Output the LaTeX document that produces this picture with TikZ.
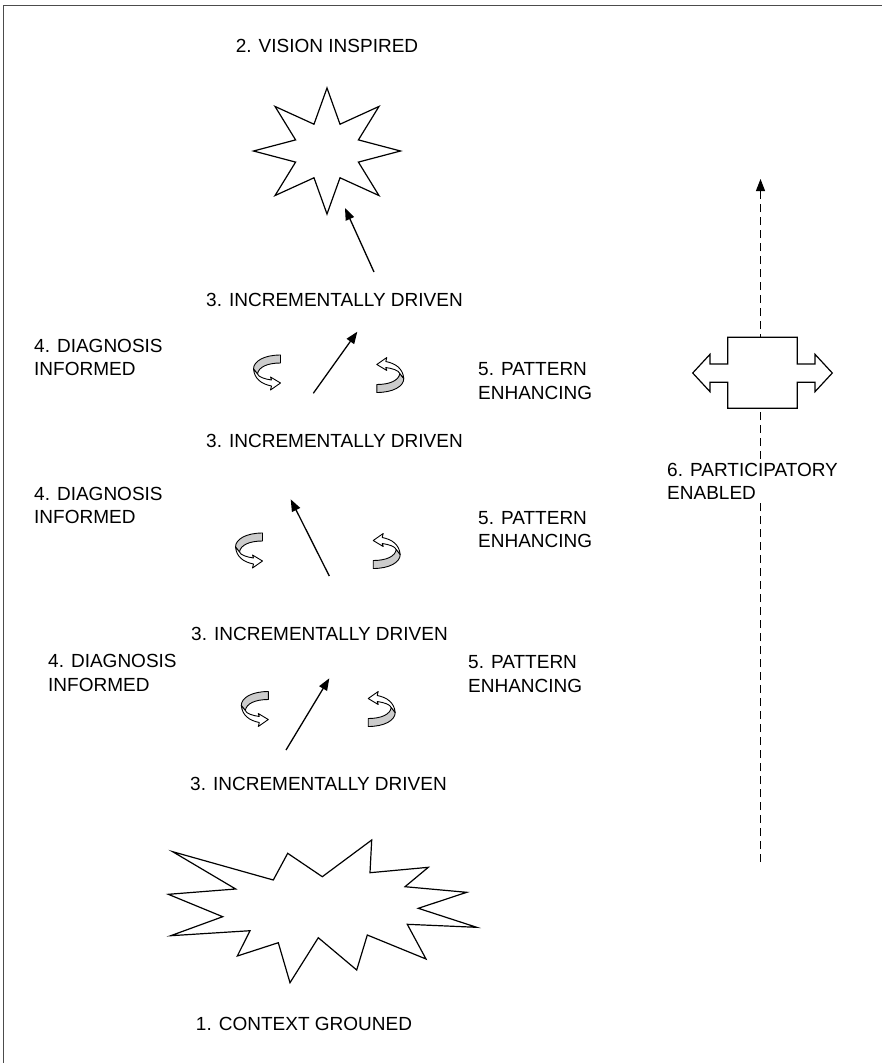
\documentclass[tikz,border=0pt]{standalone}
\usepackage{fontspec}
\setmainfont{Liberation Sans}
\usetikzlibrary{arrows.meta}
\begin{document}
\begin{tikzpicture}[x=1pt,y=-1pt,
  lbl/.style={font=\fontsize{19}{23.5}\selectfont, inner sep=0pt, align=left},
  shapeln/.style={line width=1.2pt, line join=miter, fill=white},
  ar/.style={line width=1.3pt, -{Triangle[length=12pt,width=9pt]}},
  curl/.pic={
    \begin{scope}[shift={(-13.5,-17.5)}, line width=0.9pt, line join=round]
      \draw[fill=gray!40] (27,0) .. controls (11,0) and (0,6) .. (0,14) -- (4,19) .. controls (5,12) and (14,8) .. (27,8) -- cycle;
      \draw[fill=white] (0,14) .. controls (1,24) and (8,29) .. (18,31) -- (17,35) -- (27,28) -- (17,22) -- (18,25) .. controls (11,24) and (5,22) .. (4,19) -- cycle;
    \end{scope}
  }]
\useasboundingbox (0,0) rectangle (881,1063);
\draw[line width=1pt, black!70] (3,1075) |- (895,5);

% vision star
\begin{scope}[shift={(327,151)}]
\draw[shapeln] (0:73.5 and 63) -- (22.5:34 and 29) -- (45:73.5 and 63) -- (67.5:34 and 29)
 -- (90:73.5 and 63) -- (112.5:34 and 29) -- (135:73.5 and 63) -- (157.5:34 and 29)
 -- (180:73.5 and 63) -- (202.5:34 and 29) -- (225:73.5 and 63) -- (247.5:34 and 29)
 -- (270:73.5 and 63) -- (292.5:34 and 29) -- (315:73.5 and 63) -- (337.5:34 and 29) -- cycle;
\end{scope}
\node[lbl] (vision) at (327,46) {2. VISION INSPIRED};

% context explosion
\draw[shapeln] (172.7,851.7) -- (273.3,880) -- (287.7,853.3) -- (322.3,876.7) -- (371.7,840)
 -- (370,872.7) -- (428.3,867.3) -- (405,886.7) -- (466.7,892.3) -- (418.3,908.3)
 -- (476.7,927.3) -- (407.3,924.3) -- (426,959) -- (367.3,935) -- (356.7,970)
 -- (318.3,937.7) -- (290,982.7) -- (278.3,942.7) -- (237.3,956) -- (250,930.7)
 -- (170.7,935.7) -- (222.7,916.7) -- (168.3,894.3) -- (235.7,889) -- cycle;
\node[lbl] (context) at (304,1024) {1. CONTEXT GROUNED};

% incremental labels
\node[lbl, anchor=west] (inc1) at (206,300) {3. INCREMENTALLY DRIVEN};
\node[lbl, anchor=west] (inc2) at (206,441) {3. INCREMENTALLY DRIVEN};
\node[lbl, anchor=west] (inc3) at (191,634) {3. INCREMENTALLY DRIVEN};
\node[lbl, anchor=west] (inc4) at (190,784) {3. INCREMENTALLY DRIVEN};

% diagnosis / pattern labels
\node[lbl, anchor=west] (diag1) at (34,357.5) {4. DIAGNOSIS\\INFORMED};
\node[lbl, anchor=west] (diag2) at (34,505.5) {4. DIAGNOSIS\\INFORMED};
\node[lbl, anchor=west] (diag3) at (48,673) {4. DIAGNOSIS\\INFORMED};
\node[lbl, anchor=west] (pat1) at (478,381) {5. PATTERN\\ENHANCING};
\node[lbl, anchor=west] (pat2) at (478,529.5) {5. PATTERN\\ENHANCING};
\node[lbl, anchor=west] (pat3) at (468,674) {5. PATTERN\\ENHANCING};

% arrows
\coordinate (v0) at (374,272); \coordinate (v1) at (345,208);
\draw[ar] (v0) -- (v1);
\coordinate (a0) at (313.3,393.3); \coordinate (a1) at (357.3,331.7);
\draw[ar] (a0) -- (a1);
\coordinate (b0) at (329.3,576); \coordinate (b1) at (290.7,499.3);
\draw[ar] (b0) -- (b1);
\coordinate (c0) at (286,750); \coordinate (c1) at (329.3,678.3);
\draw[ar] (c0) -- (c1);

% curly arrows
\pic at (267,372.5) {curl};
\pic[rotate=180] at (390.3,375) {curl};
\pic at (249,550.5) {curl};
\pic[rotate=180] at (386.7,551) {curl};
\pic at (254.8,709) {curl};
\pic[rotate=180] at (381.7,709) {curl};

% participatory axis
\coordinate (p0) at (760.5,862); \coordinate (p1) at (760.5,179);
\draw[line width=1pt, dash pattern=on 8pt off 5pt, -{Triangle[length=12pt,width=9pt]}] (p0) -- (p1);
\draw[shapeln] (727.7,337.3) -- (797.3,337.3) -- (797.3,364) -- (815,364) -- (815,354.3) -- (832.3,373)
 -- (815,391.7) -- (815,382.3) -- (797.3,382.3) -- (797.3,408.3) -- (727.7,408.3) -- (727.7,382.3)
 -- (710,382.3) -- (710,391.7) -- (692.7,373) -- (710,354.3) -- (710,364) -- (727.7,364) -- cycle;
\node[lbl, anchor=west, fill=white, inner ysep=3pt] (part) at (667,481.5) {6. PARTICIPATORY\\ENABLED};
\end{tikzpicture}
\end{document}
